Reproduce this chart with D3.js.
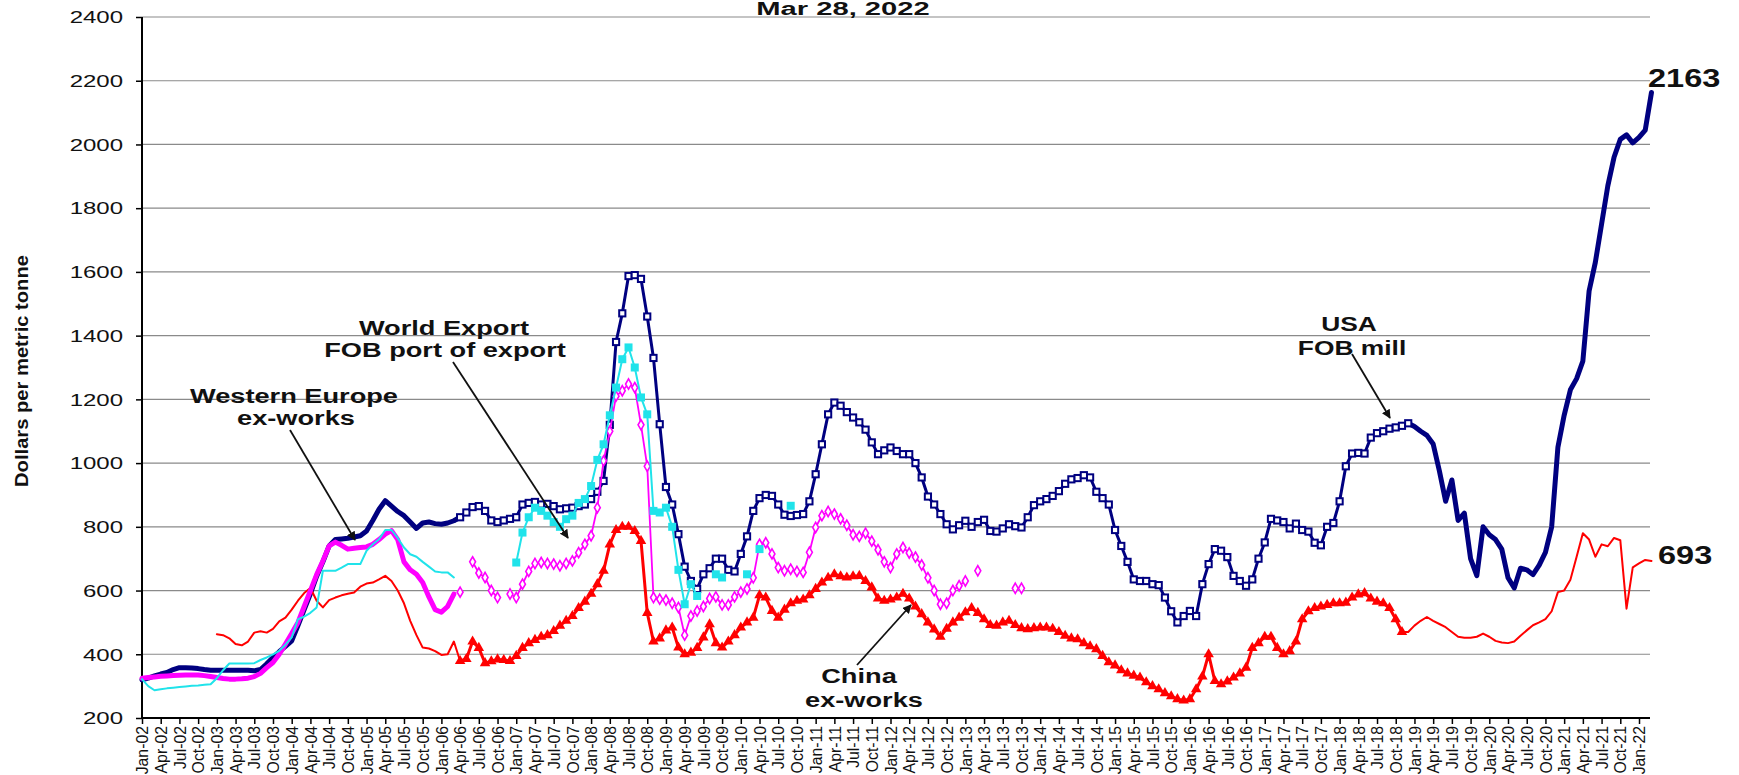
<!DOCTYPE html>
<html><head><meta charset="utf-8">
<script src="https://cdn.jsdelivr.net/npm/d3@7"></script>
<style>body{margin:0;background:#fff} svg{display:block}</style>
</head><body>
<svg id="c" width="1739" height="775"></svg>
<script>
// ---------- DATA (monthly, index 0 = Jan-02) ----------
const xTickLabels = [
"Jan-02","Apr-02","Jul-02","Oct-02","Jan-03","Apr-03","Jul-03","Oct-03","Jan-04","Apr-04","Jul-04","Oct-04",
"Jan-05","Apr-05","Jul-05","Oct-05","Jan-06","Apr-06","Jul-06","Oct-06","Jan-07","Apr-07","Jul-07","Oct-07",
"Jan-08","Apr-08","Jul-08","Oct-08","Jan-09","Apr-09","Jul-09","Oct-09","Jan-10","Apr-10","Jul-10","Oct-10",
"Jan-11","Apr-11","Jul-11","Oct-11","Jan-12","Apr-12","Jul-12","Oct-12","Jan-13","Apr-13","Jul-13","Oct-13",
"Jan-14","Apr-14","Jul-14","Oct-14","Jan-15","Apr-15","Jul-15","Oct-15","Jan-16","Apr-16","Jul-16","Oct-16",
"Jan-17","Apr-17","Jul-17","Oct-17","Jan-18","Apr-18","Jul-18","Oct-18","Jan-19","Apr-19","Jul-19","Oct-19",
"Jan-20","Apr-20","Jul-20","Oct-20","Jan-21","Apr-21","Jul-21","Oct-21","Jan-22"];
const yTicks = [200,400,600,800,1000,1200,1400,1600,1800,2000,2200,2400];

// USA FOB mill (navy), Jan-02 .. Mar-22
const usaStart = 0;
const usaValues = [
320,325,332,338,343,352,358,358,357,355,
352,350,350,350,350,350,350,350,348,352,
370,390,408,425,442,490,540,590,645,690,
740,760,762,764,768,772,787,820,855,882,
865,848,835,815,795,812,815,810,808,812,
819,830,845,862,865,850,820,815,820,825,
830,870,875,878,870,872,865,855,858,860,
865,870,887,910,944,1120,1380,1470,1587,1590,
1578,1460,1330,1122,925,870,777,675,630,605,
651,670,700,700,665,660,715,770,850,890,
900,897,870,838,834,837,840,880,965,1059,
1153,1190,1180,1160,1143,1128,1105,1065,1028,1040,
1049,1038,1028,1028,1000,955,895,870,840,808,
792,805,819,800,815,822,787,785,795,808,
802,798,830,868,880,887,897,912,935,949,
953,962,955,910,890,870,790,740,690,635,
630,630,620,617,578,535,500,520,536,520,
620,683,730,725,705,646,630,615,635,700,
751,825,820,815,795,810,790,785,750,742,
800,812,880,990,1030,1032,1030,1080,1094,1100,
1108,1112,1117,1125,1115,1100,1087,1060,975,880,
947,820,843,700,647,800,775,760,730,640,
608,670,665,650,680,720,800,1050,1150,1230,
1265,1320,1540,1630,1750,1870,1960,2016,2030,2005,
2022,2045,2163];

// China ex-works (red), Jan-03 .. Mar-22
const chinaStart = 12;
const chinaValues = [
463,460,450,432,428,440,468,472,
468,480,503,515,540,568,592,608,568,547,
570,578,585,590,594,612,622,625,635,646,
630,600,560,505,460,421,418,410,398,400,
440,379,385,440,420,372,378,384,382,379,
395,420,435,445,455,460,473,490,505,520,
545,565,590,620,662,745,790,800,800,787,
756,530,440,450,475,484,421,400,405,420,
453,494,435,421,440,460,484,500,515,585,
578,536,515,540,560,568,572,585,605,625,
640,651,645,641,645,646,630,610,575,568,
572,578,590,575,550,526,500,478,455,480,
500,515,532,545,530,510,492,490,500,505,
492,482,479,482,484,484,480,470,458,450,
447,435,425,416,395,375,365,350,340,333,
327,312,300,290,278,268,259,255,259,290,
330,400,316,306,315,327,340,358,420,435,
455,455,420,400,410,440,510,535,545,550,
555,560,560,562,578,588,592,575,565,560,
545,510,470,470,490,505,517,505,495,485,
470,455,452,452,455,465,455,442,437,435,
440,458,475,491,500,510,535,595,600,634,
706,780,760,706,745,739,765,758,543,673,
685,696,693];

// Western Europe ex-works (magenta), Jan-02 .. Oct-13
const europeStart = 0;
const europeValues = [
325,327,329,331,332,333,334,335,335,335,
333,330,327,324,322,322,323,325,330,340,
358,374,400,432,465,500,550,600,650,693,
740,752,742,730,733,735,737,745,760,777,
788,760,690,665,651,625,580,540,532,550,
589,595,null,690,655,641,600,578,null,589,
578,620,660,685,688,685,683,678,685,693,
719,745,772,860,1007,1100,1210,1227,1248,1237,
1120,990,578,573,570,560,547,460,520,536,
550,575,580,555,555,580,595,605,640,745,
750,715,672,662,667,660,657,720,798,835,
848,840,825,805,775,770,780,755,728,690,
672,715,735,718,705,680,640,600,557,560,
600,615,630,null,662,null,null,null,null,null,
607,607];

// World Export FOB port of export (cyan), Jan-02 .. May-10
const worldStart = 0;
const worldValues = [
322,300,287,290,293,295,297,299,301,302,
304,306,325,350,371,371,371,371,372,382,
390,400,411,430,453,510,518,530,547,662,
662,662,672,683,683,683,725,745,761,790,
790,765,735,714,706,690,675,660,657,657,
641,null,null,null,null,null,null,null,null,null,
688,782,830,860,850,835,815,800,824,835,
875,887,928,1010,1059,1150,1237,1326,1363,1300,
1206,1153,850,845,860,800,665,557,620,583,
null,null,651,641,null,null,null,651,null,730,
null,null,null,null,866];

// ---------- CHART ----------
const FONT = "'Liberation Sans', Arial, Helvetica, sans-serif";
const svg = d3.select("#c");
const PL = 142, PR = 1650, PT = 17, PB = 718;
const x = d3.scaleLinear().domain([0, 240]).range([PL, 1639]);
const y = d3.scaleLinear().domain([200, 2400]).range([PB, PT]);

const toPts = (start, vals) => vals.map((v, i) => ({m: start + i, v}));
const usa = toPts(usaStart, usaValues);
const china = toPts(chinaStart, chinaValues);
const europe = toPts(europeStart, europeValues);
const world = toPts(worldStart, worldValues);

// gridlines
svg.append("g").selectAll("line").data(yTicks.filter(d => d > 200)).join("line")
  .attr("x1", PL).attr("x2", PR)
  .attr("y1", d => y(d)).attr("y2", d => y(d))
  .attr("stroke", "#8a8a8a").attr("stroke-width", 1.2);

// y axis
const yAx = svg.append("g").attr("transform", `translate(${PL},0)`)
  .call(d3.axisLeft(y).tickValues(yTicks).tickFormat(d3.format("d")).tickSize(6).tickSizeOuter(0));
yAx.select(".domain").remove();
yAx.selectAll(".tick line").attr("stroke", "#000").attr("stroke-width", 1.5);
yAx.selectAll(".tick text")
  .attr("font-family", FONT).attr("font-size", 16).attr("fill", "#111")
  .attr("x", -19 / 1.5).attr("dy", "0.36em")
  .attr("transform", "scale(1.5,1)");

// x axis
const xAx = svg.append("g").attr("transform", `translate(0,${PB})`)
  .call(d3.axisBottom(x).tickValues(d3.range(0, 241, 3))
    .tickFormat((d, i) => xTickLabels[i]).tickSize(6).tickSizeOuter(0));
xAx.select(".domain").remove();
xAx.selectAll(".tick line").attr("stroke", "#000").attr("stroke-width", 1.5);
xAx.selectAll(".tick text")
  .attr("font-family", FONT).attr("font-size", 15.8).attr("fill", "#111")
  .attr("text-anchor", "end")
  .attr("transform", "translate(0,8) rotate(-90)")
  .attr("x", 0).attr("y", 0).attr("dy", "0.36em");

// axis lines
svg.append("line").attr("x1", PL).attr("x2", PL).attr("y1", PT).attr("y2", PB)
  .attr("stroke", "#000").attr("stroke-width", 2);
svg.append("line").attr("x1", PL).attr("x2", PR).attr("y1", PB).attr("y2", PB)
  .attr("stroke", "#000").attr("stroke-width", 2);

const line = d3.line().defined(d => d.v != null).x(d => x(d.m)).y(d => y(d.v));
const seg = (pts, a, b) => pts.filter(d => d.m >= a && d.m <= b);
const drawLine = (pts, color, w) => svg.append("path").datum(pts)
  .attr("d", line).attr("fill", "none").attr("stroke", color)
  .attr("stroke-width", w).attr("stroke-linejoin", "round").attr("stroke-linecap", "round");

const NAVY = "#000080", RED = "#ff0000", MAG = "#ff00ff", CYAN = "#20e3ea";

// USA (navy)
drawLine(seg(usa, 0, 51), NAVY, 5);
drawLine(seg(usa, 51, 203), NAVY, 3);
drawLine(seg(usa, 203, 242), NAVY, 5);
svg.append("g").selectAll("rect").data(seg(usa, 51, 203)).join("rect")
  .attr("x", d => x(d.m) - 3.1).attr("y", d => y(d.v) - 3.1)
  .attr("width", 6.2).attr("height", 6.2)
  .attr("fill", "#fff").attr("stroke", NAVY).attr("stroke-width", 2);

// China (red)
drawLine(seg(china, 12, 51), RED, 2);
drawLine(seg(china, 51, 202), RED, 3);
drawLine(seg(china, 202, 242), RED, 2);
svg.append("g").selectAll("path").data(seg(china, 51, 202)).join("path")
  .attr("transform", d => `translate(${x(d.m)},${y(d.v)})`)
  .attr("d", d3.symbol(d3.symbolTriangle, 48)).attr("fill", RED);

// Western Europe (magenta)
drawLine(seg(europe, 0, 50), MAG, 5);
drawLine(seg(europe, 51, 141), MAG, 1.8);
svg.append("g").selectAll("path").data(seg(europe, 51, 141).filter(d => d.v != null)).join("path")
  .attr("transform", d => `translate(${x(d.m)},${y(d.v)})`)
  .attr("d", d3.symbol(d3.symbolDiamond, 30))
  .attr("fill", "#fff").attr("stroke", MAG).attr("stroke-width", 1.6);

// World export (cyan)
drawLine(seg(world, 0, 50), CYAN, 2);
drawLine(seg(world, 60, 104), CYAN, 2);
svg.append("g").selectAll("rect").data(seg(world, 60, 104).filter(d => d.v != null)).join("rect")
  .attr("x", d => x(d.m) - 4).attr("y", d => y(d.v) - 4)
  .attr("width", 8).attr("height", 8).attr("fill", CYAN);

// ---------- TEXT ----------
function sText(str, px, py, size, sx, anchor, bold) {
  svg.append("text").text(str)
    .attr("transform", `translate(${px},${py}) scale(${sx},1)`)
    .attr("text-anchor", anchor).attr("font-family", FONT)
    .attr("font-size", size).attr("font-weight", bold ? "bold" : "normal")
    .attr("fill", "#111");
}
sText("Mar 28, 2022", 843, 15, 18, 1.62, "middle", true);
sText("World Export", 444, 335, 20, 1.36, "middle", true);
sText("FOB port of export", 445, 357, 20, 1.36, "middle", true);
sText("Western Europe", 294, 403, 20, 1.36, "middle", true);
sText("ex-works", 296, 425, 20, 1.36, "middle", true);
sText("USA", 1349, 331, 20, 1.32, "middle", true);
sText("FOB mill", 1352, 355, 20, 1.32, "middle", true);
sText("China", 859, 683, 20, 1.36, "middle", true);
sText("ex-works", 864, 707, 20, 1.36, "middle", true);
sText("2163", 1648, 87, 25, 1.3, "start", true);
sText("693", 1658, 564, 25, 1.3, "start", true);

// y axis title
svg.append("text").text("Dollars per metric tonne")
  .attr("transform", "translate(28,371) rotate(-90) scale(1.12,1)")
  .attr("text-anchor", "middle").attr("font-family", FONT)
  .attr("font-size", 18).attr("font-weight", "bold").attr("fill", "#111");

// arrows
const defs = svg.append("defs");
defs.append("marker").attr("id", "ah").attr("viewBox", "0 0 10 10")
  .attr("refX", 9).attr("refY", 5).attr("markerWidth", 9).attr("markerHeight", 9)
  .attr("markerUnits", "userSpaceOnUse").attr("orient", "auto")
  .append("path").attr("d", "M0,0 L10,5 L0,10 z").attr("fill", "#111");
const arrows = [
  [290, 430, 355, 540],
  [453, 362, 568, 538],
  [1352, 354, 1390, 418],
  [857, 665, 911, 605]
];
svg.append("g").selectAll("line").data(arrows).join("line")
  .attr("x1", d => d[0]).attr("y1", d => d[1]).attr("x2", d => d[2]).attr("y2", d => d[3])
  .attr("stroke", "#111").attr("stroke-width", 1.8).attr("marker-end", "url(#ah)");
</script>
</body></html>
